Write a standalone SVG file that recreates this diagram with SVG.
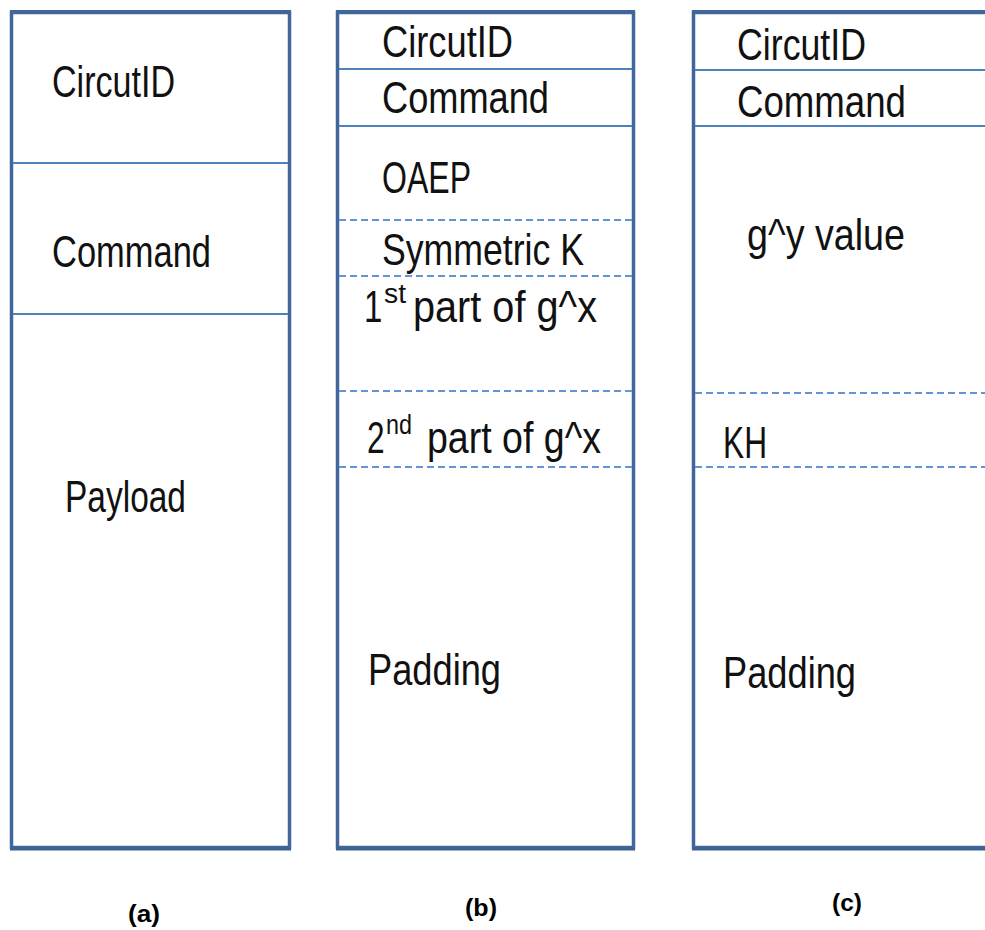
<svg xmlns="http://www.w3.org/2000/svg" width="985" height="930" viewBox="0 0 985 930">
<style>
.box{fill:#ffffff;stroke:#41679A;stroke-width:3.5}
.shadow{fill:none;stroke:#3D6190;stroke-width:3}
.top{fill:none;stroke:#41679A;stroke-width:2}
.sep{stroke:#4F81BD;stroke-width:2}
.dash{stroke:#6495D3;stroke-width:2.2;stroke-dasharray:7 4}
.t{font-family:"Liberation Sans",Arial,sans-serif;font-size:44px;fill:#111111}
.sup{font-family:"Liberation Sans",Arial,sans-serif;font-size:27px;fill:#111111}
.lbl{font-family:"Liberation Sans",Arial,sans-serif;font-size:24px;font-weight:bold;fill:#000000}
</style>
<rect width="985" height="930" fill="#ffffff"/>
<g id="cellA">
<rect class="box" x="11.5" y="12.5" width="278" height="835"/>
<line class="top" x1="10" y1="11" x2="291" y2="11"/>
<line class="shadow" x1="10" y1="849" x2="291" y2="849"/>
<line class="sep" x1="13" y1="163" x2="288" y2="163"/>
<line class="sep" x1="13" y1="314" x2="288" y2="314"/>
<text class="t" x="52" y="97" textLength="123" lengthAdjust="spacingAndGlyphs">CircutID</text>
<text class="t" x="52" y="267" textLength="159" lengthAdjust="spacingAndGlyphs">Command</text>
<text class="t" x="65" y="512" textLength="121" lengthAdjust="spacingAndGlyphs">Payload</text>
<text class="lbl" x="144" y="922" text-anchor="middle" textLength="32" lengthAdjust="spacingAndGlyphs">(a)</text>
</g>
<g id="cellB">
<rect class="box" x="337.5" y="12.5" width="296" height="835"/>
<line class="top" x1="336" y1="11" x2="635" y2="11"/>
<line class="shadow" x1="336" y1="849" x2="635" y2="849"/>
<line class="sep" x1="339" y1="69" x2="632" y2="69"/>
<line class="sep" x1="339" y1="126" x2="632" y2="126"/>
<line class="dash" x1="339" y1="220" x2="632" y2="220"/>
<line class="dash" x1="339" y1="276" x2="632" y2="276"/>
<line class="dash" x1="339" y1="391" x2="632" y2="391"/>
<line class="dash" x1="339" y1="467" x2="632" y2="467"/>
<text class="t" x="382" y="57" textLength="131" lengthAdjust="spacingAndGlyphs">CircutID</text>
<text class="t" x="382" y="113" textLength="167" lengthAdjust="spacingAndGlyphs">Command</text>
<text class="t" x="382" y="193" textLength="89" lengthAdjust="spacingAndGlyphs">OAEP</text>
<text class="t" x="382" y="265" textLength="202" lengthAdjust="spacingAndGlyphs">Symmetric K</text>
<text class="t" transform="translate(364 322) scale(0.75 1)">1</text>
<text class="sup" x="384" y="303" textLength="22" lengthAdjust="spacingAndGlyphs">st</text>
<text class="t" x="413" y="322" textLength="184" lengthAdjust="spacingAndGlyphs">part of g^x</text>
<text class="t" transform="translate(367 453) scale(0.72 1)">2</text>
<text class="sup" x="386" y="434" textLength="26" lengthAdjust="spacingAndGlyphs">nd</text>
<text class="t" x="427" y="453" textLength="174" lengthAdjust="spacingAndGlyphs">part of g^x</text>
<text class="t" x="368" y="685" textLength="133" lengthAdjust="spacingAndGlyphs">Padding</text>
<text class="lbl" x="481" y="916" text-anchor="middle" textLength="32" lengthAdjust="spacingAndGlyphs">(b)</text>
</g>
<g id="cellC">
<rect class="box" x="693.5" y="12.5" width="320" height="835"/>
<line class="top" x1="692" y1="11" x2="990" y2="11"/>
<line class="shadow" x1="692" y1="849" x2="990" y2="849"/>
<line class="sep" x1="695" y1="70" x2="985" y2="70"/>
<line class="sep" x1="695" y1="126" x2="985" y2="126"/>
<line class="dash" x1="695" y1="393" x2="985" y2="393"/>
<line class="dash" x1="695" y1="467" x2="985" y2="467"/>
<text class="t" x="737" y="60" textLength="129" lengthAdjust="spacingAndGlyphs">CircutID</text>
<text class="t" x="737" y="117" textLength="169" lengthAdjust="spacingAndGlyphs">Command</text>
<text class="t" x="747" y="250" textLength="158" lengthAdjust="spacingAndGlyphs">g^y value</text>
<text class="t" x="723" y="458" textLength="44" lengthAdjust="spacingAndGlyphs">KH</text>
<text class="t" x="723" y="688" textLength="133" lengthAdjust="spacingAndGlyphs">Padding</text>
<text class="lbl" x="847" y="911" text-anchor="middle" textLength="30" lengthAdjust="spacingAndGlyphs">(c)</text>
</g>
<g id="connectors"></g>
</svg>
